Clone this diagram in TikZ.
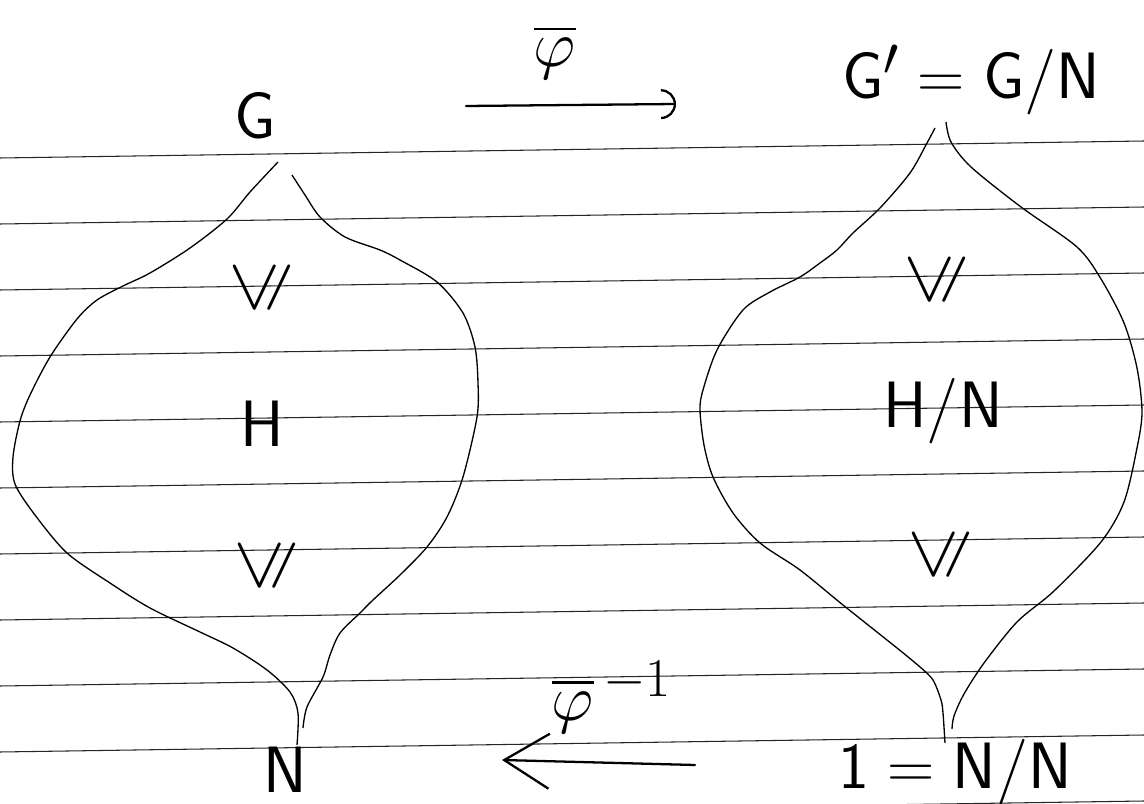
\documentclass[tikz,border=0pt]{standalone}
\usepackage{amsmath,amssymb}
\usepackage{graphicx}
\usepackage{tikz}
\usetikzlibrary{arrows.meta}
\tikzset{
  rule/.style   ={draw=black!85, line width=0.6pt},
  lens/.style   ={draw=black, line width=0.75pt},
  lbl/.style    ={font=\Huge, inner sep=0pt},
  rel/.style    ={font=\Huge, inner sep=0pt},
  maparr/.style ={line width=1.3pt, line cap=round},
}
\newcommand{\hw}[1]{\scalebox{1.5}{$#1$}}
\newcommand{\subgp}{\scalebox{1.7}{\rotatebox{90}{$\leqslant$}}}

\begin{document}
\begin{tikzpicture}[x=0.02cm,y=-0.02cm]
  \useasboundingbox (0,0) rectangle (1144,804);
  \fill[white] (0,0) rectangle (1144,804);
  % ruled paper
  \begin{scope}
    \clip (0,0) rectangle (1144,804);
    \foreach \k in {0,...,10}
      \draw[rule] (0,158+66*\k) -- (1144,141+66*\k);
  \end{scope}
  % left lens: G down to N
  \draw[lens] plot[smooth] coordinates {(278,162) (250,192) (227,219) (190,248)
    (150,273) (123,286) (97,300) (77,319) (50,357) (30,395) (20,421) (13,457)
    (15,484) (35,515) (67,553) (110,583) (150,608) (200,632) (233,648)
    (267,670) (290,692) (298,713) (297,745)};
  \draw[lens] plot[smooth] coordinates {(292,175) (305,195) (320,217) (345,237)
    (380,250) (400,260) (437,282) (463,313) (475,347) (478,383) (477,417)
    (463,477) (447,517) (427,547) (400,575) (373,600) (360,613) (340,633)
    (330,655) (323,677) (307,707) (303,728)};
  % right lens: G/N down to N/N
  \draw[lens] plot[smooth] coordinates {(935,128) (927,143) (910,173) (880,208)
    (853,233) (837,250) (820,263) (800,277) (770,292) (743,310) (717,350)
    (703,390) (700,410) (704,445) (713,477) (733,513) (760,543) (800,570)
    (843,605) (897,648) (920,667) (933,680) (941,700) (943,713) (945,743)};
  \draw[lens] plot[smooth] coordinates {(946,122) (951,142) (971,167)
    (1021,207) (1077,247) (1101,279) (1124,323) (1137,368) (1142,412)
    (1137,448) (1124,502) (1101,542) (1054,591) (1017,622) (984,663)
    (964,694) (954,716) (952,729)};

  % groups
  \node[lbl] (G)  at (255,116) {\hw{\mathsf{G}}};
  \node[lbl] (Gq) at (971,80)  {\hw{\mathsf{G}'=\mathsf{G}/\mathsf{N}}};
  \node[lbl] (N)  at (285,770) {\hw{\mathsf{N}}};
  \node[lbl] (Nq) at (955,772) {\hw{\mathsf{1}=\mathsf{N}/\mathsf{N}}};
  \node[lbl] (H)  at (262,424) {\hw{\mathsf{H}}};
  \node[lbl] (Hq) at (943,411) {\hw{\mathsf{H}/\mathsf{N}}};
  \node[rel] (lgH) at (262,288) {\subgp};
  \node[rel] (lHN) at (267,566) {\subgp};
  \node[rel] (rgH) at (937,280) {\subgp};
  \node[rel] (rHN) at (941,555) {\subgp};

  % the two maps
  \coordinate (fwdS) at (466,106);
  \coordinate (fwdE) at (676,104);
  \draw[maparr, -{Arc Barb[length=3mm,width=6mm]}] (fwdS) -- (fwdE);
  \node[lbl] (phi) at (555,52) {\hw{\overline{\varphi}}};
  \coordinate (bckS) at (695,765);
  \coordinate (bckE) at (502,760);
  \draw[maparr, -{Straight Barb[length=9mm,width=11mm]}] (bckS) -- (bckE);
  \node[lbl] (phiinv) at (612,697) {\hw{\overline{\varphi}^{\,-1}}};
\end{tikzpicture}
\end{document}
